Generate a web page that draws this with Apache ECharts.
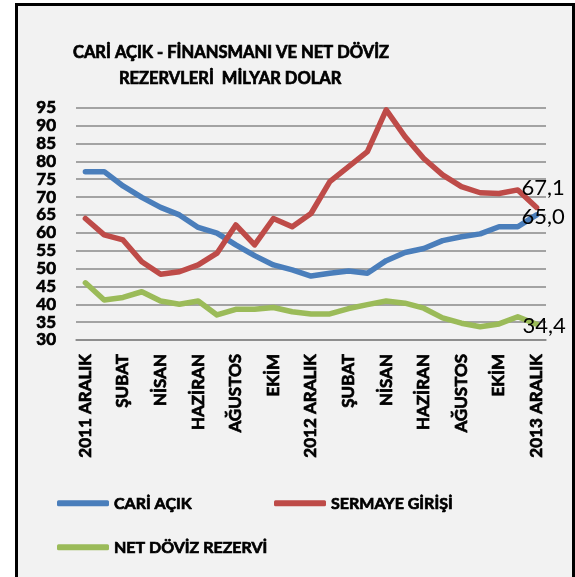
<!DOCTYPE html>
<html>
<head>
<meta charset="utf-8">
<script src="https://cdn.jsdelivr.net/npm/echarts@6/dist/echarts.min.js"></script>
<style>
html,body{margin:0;padding:0;background:#ffffff;}
#chart{width:575px;height:577px;}
</style>
</head>
<body>
<div id="chart"></div>
<script>
var categories = ['2011 ARALIK','OCAK','ŞUBAT','MART','NİSAN','MAYIS','HAZİRAN','TEMMUZ','AĞUSTOS','EYLÜL','EKİM','KASIM',
  '2012 ARALIK','OCAK','ŞUBAT','MART','NİSAN','MAYIS','HAZİRAN','TEMMUZ','AĞUSTOS','EYLÜL','EKİM','KASIM','2013 ARALIK'];
var cariAcik = [77.1,77.1,73.1,69.9,67.1,65.0,61.5,59.9,56.6,53.6,51.0,49.6,47.9,48.7,49.3,48.7,52.2,54.5,55.6,57.8,58.9,59.7,61.7,61.7,65.0];
var sermayeGirisi = [64.0,59.4,58.0,51.9,48.4,49.1,51.0,54.3,62.2,56.6,64.0,61.7,65.4,74.3,78.5,82.7,94.4,86.9,80.8,76.2,72.9,71.2,71.0,72.0,67.1];
var netDovizRezervi = [46.0,41.2,41.9,43.5,40.9,40.0,40.9,37.0,38.6,38.6,39.1,37.9,37.3,37.3,38.8,39.9,40.9,40.3,38.9,36.2,34.7,33.7,34.5,36.5,34.4];
var seriesNames = ['CARİ AÇIK','SERMAYE GİRİŞİ','NET DÖVİZ REZERVİ'];
var colors = ['#4a7ebb','#be4b48','#9bbb59'];

var FONT = 'Lato';
var W = 'bold';
var heavy = {textBorderColor: '#000', textBorderWidth: 0.7};
function fmt(p){ return Number(p.value).toFixed(1).replace('.', ','); }
function mkSeries(name, data, color, offset){
  return {
    name: name, type: 'line', data: data, color: color,
    symbol: 'none', smooth: false,
    lineStyle: {width: 5.5, color: color, cap: 'round', join: 'round'},
    endLabel: {show: true, formatter: fmt, offset: offset, color: '#000',
      fontFamily: FONT, fontSize: 22, fontWeight: 'normal'},
    emphasis: {disabled: true}
  };
}
var legendText = Object.assign({fontFamily: FONT, fontSize: 16, fontWeight: W, color: '#000'}, heavy);
var titleText = Object.assign({fontFamily: FONT, fontSize: 16.5, fontWeight: W, color: '#000'}, heavy);
var chart = echarts.init(document.getElementById('chart'), null, {renderer: 'canvas'});
chart.setOption({
  animation: false,
  backgroundColor: '#ffffff',
  graphic: [{
    type: 'rect', z: -10, silent: true,
    shape: {x: 16.5, y: 4.5, width: 557, height: 600},
    style: {fill: '#f2f2f2', stroke: '#000', lineWidth: 3}
  }],
  title: [
    {text: 'CARİ AÇIK - FİNANSMANI VE NET DÖVİZ', left: 68, top: 39, textStyle: titleText},
    {text: 'REZERVLERİ  MİLYAR DOLAR', left: 114, top: 65, textStyle: titleText}
  ],
  legend: [
    {data: [seriesNames[0]], left: 52, top: 490, icon: 'roundRect', itemWidth: 52, itemHeight: 6, textStyle: legendText},
    {data: [seriesNames[1]], left: 269, top: 490, icon: 'roundRect', itemWidth: 52, itemHeight: 6, textStyle: legendText},
    {data: [seriesNames[2]], left: 52, top: 534, icon: 'roundRect', itemWidth: 52, itemHeight: 6, textStyle: legendText}
  ],
  grid: {left: 76, right: 29, top: 107.7, height: 232.3, containLabel: false},
  xAxis: {
    type: 'category', data: categories, boundaryGap: true,
    axisLine: {lineStyle: {color: '#888', width: 1.5}},
    axisTick: {show: false},
    axisLabel: Object.assign({interval: 1, rotate: 90, margin: 14, color: '#000',
      fontFamily: FONT, fontSize: 17, fontWeight: W}, heavy)
  },
  yAxis: {
    type: 'value', min: 30, max: 95, interval: 5,
    axisLine: {show: false}, axisTick: {show: false},
    splitLine: {lineStyle: {color: '#888', width: 1.5}},
    axisLabel: Object.assign({margin: 20, color: '#000', fontFamily: FONT, fontSize: 17, fontWeight: W}, heavy)
  },
  series: [
    mkSeries(seriesNames[0], cariAcik, colors[0], [-23, 2]),
    mkSeries(seriesNames[1], sermayeGirisi, colors[1], [-23, -20]),
    mkSeries(seriesNames[2], netDovizRezervi, colors[2], [-22, 2])
  ]
});
</script>
</body>
</html>
